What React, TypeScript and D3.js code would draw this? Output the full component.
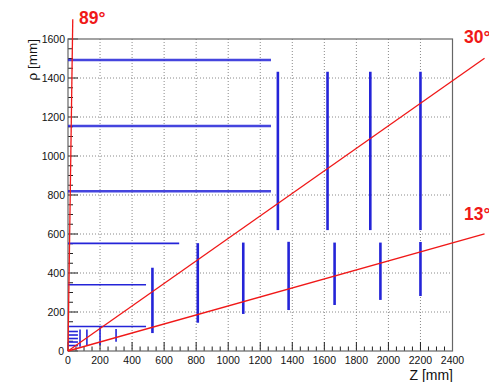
import React from "react";
import * as d3 from "d3";

const W = 489;
const H = 382;

// Axis ranges and ticks
const xDomain = [0, 2400];
const yDomain = [0, 1600];
const xMajorTicks = [0, 200, 400, 600, 800, 1000, 1200, 1400, 1600, 1800, 2000, 2200, 2400];
const yMajorTicks = [0, 200, 400, 600, 800, 1000, 1200, 1400, 1600];

// Barrel layers: radius (rho), z extent
const barrelRho = [1492, 1154, 819, 552, 340, 126, 100, 82, 64, 46, 28];
const barrelZMax = [1267, 1267, 1267, 694, 487, 487, 62, 62, 62, 62, 62];

// Disk layers: z position, rho extent
const diskZ = [527, 810, 1094, 1377, 1664, 1950, 2200, 1310, 1620, 1887, 2200, 75, 118, 200, 300];
const diskRhoMin = [92, 145, 190, 210, 236, 262, 282, 620, 620, 620, 620, 22, 30, 31, 48];
const diskRhoMax = [427, 553, 556, 560, 556, 556, 559, 1432, 1432, 1432, 1432, 110, 110, 122, 113];

// Eta/angle lines
const angleDeg = [89, 30, 13];
const angleZEnd = [29.7, 2600, 2600];
const angleLabels = ["89°", "30°", "13°"];

export default function App() {
  const x = d3.scaleLinear().domain(xDomain).range([68, 452.5]);
  const y = d3.scaleLinear().domain(yDomain).range([351, 39]);
  const font = "'Liberation Sans', Arial, Helvetica, sans-serif";

  const xMinor = d3.range(0, 2401, 50).filter((v) => v % 200 !== 0);
  const yMinor = d3.range(0, 1601, 50).filter((v) => v % 200 !== 0);
  const line = d3.line<[number, number]>().x((d) => x(d[0])).y((d) => y(d[1]));

  const blue = "#2424d8";
  const red = "#f01818";

  return (
    <svg width={W} height={H} style={{ position: "absolute", left: 0, top: 0 }} fontFamily={font}>
      <rect x={0} y={0} width={W} height={H} fill="#fff" />
      {/* grid */}
      {xMajorTicks.slice(1, -1).map((t) => (
        <line key={"gx" + t} x1={x(t)} x2={x(t)} y1={y(1600)} y2={y(0)} stroke="#8a8a8a" strokeWidth={1} strokeDasharray="1,2" />
      ))}
      {yMajorTicks.slice(1, -1).map((t) => (
        <line key={"gy" + t} x1={x(0)} x2={x(2400)} y1={y(t)} y2={y(t)} stroke="#8a8a8a" strokeWidth={1} strokeDasharray="1,2" />
      ))}
      {/* ticks */}
      {xMajorTicks.map((t) => (
        <line key={"tx" + t} x1={x(t)} x2={x(t)} y1={y(0)} y2={y(0) - 9} stroke="#222" strokeWidth={1} />
      ))}
      {xMinor.map((t) => (
        <line key={"mx" + t} x1={x(t)} x2={x(t)} y1={y(0)} y2={y(0) - 4.5} stroke="#222" strokeWidth={1} />
      ))}
      {yMajorTicks.map((t) => (
        <line key={"ty" + t} x1={x(0)} x2={x(0) + 10} y1={y(t)} y2={y(t)} stroke="#222" strokeWidth={1} />
      ))}
      {yMinor.map((t) => (
        <line key={"my" + t} x1={x(0)} x2={x(0) + 5} y1={y(t)} y2={y(t)} stroke="#222" strokeWidth={1} />
      ))}
      {/* frame */}
      <rect x={x(0)} y={y(1600)} width={x(2400) - x(0)} height={y(0) - y(1600)} fill="none" stroke="#666" strokeWidth={1.2} />
      {/* barrels */}
      {barrelRho.map((r, i) => (
        <path
          key={"b" + i}
          d={line([[0, r], [barrelZMax[i], r]]) || ""}
          stroke={blue}
          strokeWidth={i < 3 ? 2.6 : 1.6}
          strokeOpacity={i < 3 ? 0.85 : 1}
          fill="none"
        />
      ))}
      {/* disks */}
      {diskZ.map((z, i) => (
        <path
          key={"d" + i}
          d={line([[z, diskRhoMin[i]], [z, diskRhoMax[i]]]) || ""}
          stroke={blue}
          strokeWidth={i < 11 ? 2.6 : 1.6}
          fill="none"
        />
      ))}
      {/* angle lines */}
      {angleDeg.map((a, i) => {
        const zEnd = angleZEnd[i];
        const rEnd = zEnd * Math.tan((a * Math.PI) / 180);
        return <path key={"a" + i} d={line([[0, 0], [zEnd, rEnd]]) || ""} stroke={red} strokeWidth={1.3} fill="none" />;
      })}
      {/* angle labels */}
      <text x={79} y={24} fill={red} fontSize={17.5} fontWeight="bold">{angleLabels[0]}</text>
      <text x={464} y={43} fill={red} fontSize={17.5} fontWeight="bold">{angleLabels[1]}</text>
      <text x={464} y={220} fill={red} fontSize={17.5} fontWeight="bold">{angleLabels[2]}</text>
      {/* tick labels */}
      {xMajorTicks.map((t) => (
        <text key={"lx" + t} x={x(t)} y={364} fontSize={10.5} textAnchor="middle" fill="#111">{t}</text>
      ))}
      {yMajorTicks.map((t) => (
        <text key={"ly" + t} x={t === 0 ? 64 : 65} y={y(t) + 3.8} fontSize={10.5} textAnchor="end" fill="#111">{t}</text>
      ))}
      {/* axis titles */}
      <text x={453} y={380} fontSize={14} textAnchor="end" fill="#111">Z [mm]</text>
      <text transform={`translate(37, 39) rotate(-90)`} fontSize={13.5} textAnchor="end" fill="#111">ρ [mm]</text>
    </svg>
  );
}
